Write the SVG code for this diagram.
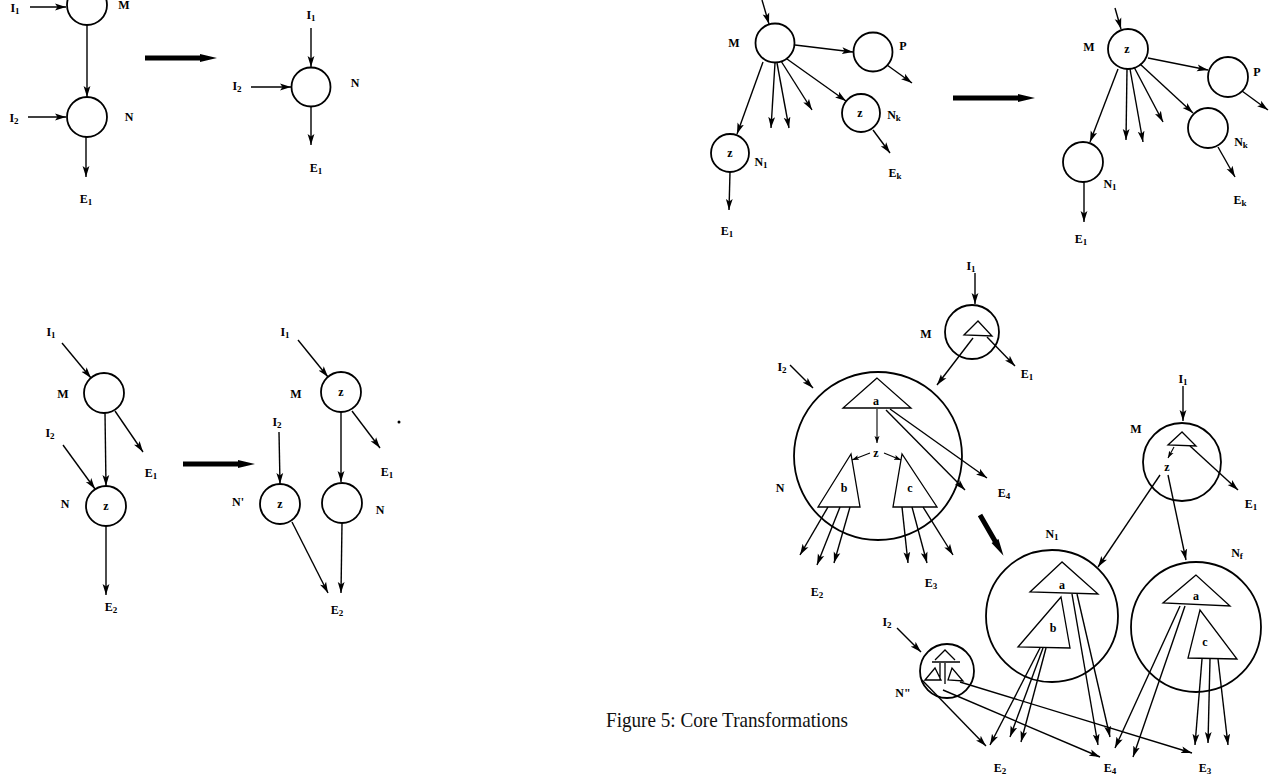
<svg xmlns="http://www.w3.org/2000/svg" width="1271" height="777" viewBox="0 0 1271 777">
<style>
.bg{fill:#fff}
.nd{fill:none;stroke:#000;stroke-width:1.8}
.tr{fill:none;stroke:#000;stroke-width:1.3}
.ln{fill:none;stroke:#000;stroke-width:1.4}
.ar{fill:none;stroke:#000;stroke-width:1.4;marker-end:url(#ah)}
.as{fill:none;stroke:#000;stroke-width:1.1;marker-end:url(#ahs)}
.lb{font-family:"Liberation Serif",serif;font-weight:bold;font-size:12px;fill:#000;text-anchor:middle}
.sub{font-size:9px}
.big{fill:#000}
.cap{font-family:"Liberation Serif",serif;font-size:21px;fill:#111}
</style>
<defs>
<marker id="ah" markerUnits="userSpaceOnUse" markerWidth="12" markerHeight="8" refX="11" refY="4" orient="auto"><path d="M0,0.6 L11,4 L0,7.4 L2.5,4 z" fill="#000"/></marker>
<marker id="ahs" markerUnits="userSpaceOnUse" markerWidth="8" markerHeight="6" refX="7" refY="3" orient="auto"><path d="M0,0.5 L7,3 L0,5.5 L1.5,3 z" fill="#000"/></marker>
</defs>
<rect class="bg" x="0" y="0" width="1271" height="777"/>

<!-- Panel 1 -->
<g id="p1-M"><circle class="nd" cx="87" cy="5" r="20"/><text class="lb" x="124" y="9">M</text></g>
<g id="p1-N"><circle class="nd" cx="87" cy="117" r="20"/><text class="lb" x="129" y="121">N</text></g>
<g id="p1-I1"><text class="lb" x="15" y="12">I<tspan class="sub" dy="2">1</tspan></text></g>
<g id="p1-I2"><text class="lb" x="14" y="122">I<tspan class="sub" dy="2">2</tspan></text></g>
<g id="p1-E1"><text class="lb" x="86" y="203">E<tspan class="sub" dy="2">1</tspan></text></g>
<g id="p1b-N"><circle class="nd" cx="311" cy="87" r="19.5"/><text class="lb" x="355" y="87">N</text></g>
<g id="p1b-I1"><text class="lb" x="311" y="19">I<tspan class="sub" dy="2">1</tspan></text></g>
<g id="p1b-I2"><text class="lb" x="237" y="90">I<tspan class="sub" dy="2">2</tspan></text></g>
<g id="p1b-E1"><text class="lb" x="316" y="172">E<tspan class="sub" dy="2">1</tspan></text></g>

<!-- Panel 2 -->
<g id="p2-M"><circle class="nd" cx="775" cy="43" r="19.5"/><text class="lb" x="734" y="47">M</text></g>
<g id="p2-P"><circle class="nd" cx="873" cy="52" r="19.5"/><text class="lb" x="903" y="50">P</text></g>
<g id="p2-N1"><circle class="nd" cx="730" cy="153" r="19"/><text class="lb" x="730" y="157">z</text><text class="lb" x="761" y="166">N<tspan class="sub" dy="2">1</tspan></text></g>
<g id="p2-Nk"><circle class="nd" cx="861" cy="113" r="19"/><text class="lb" x="860" y="117">z</text><text class="lb" x="894" y="119">N<tspan class="sub" dy="2">k</tspan></text></g>
<g id="p2-E1"><text class="lb" x="727" y="235">E<tspan class="sub" dy="2">1</tspan></text></g>
<g id="p2-Ek"><text class="lb" x="895" y="177">E<tspan class="sub" dy="2">k</tspan></text></g>

<!-- Panel 3 -->
<g id="p3-M"><circle class="nd" cx="1128" cy="49" r="20"/><text class="lb" x="1127" y="53">z</text><text class="lb" x="1089" y="51">M</text></g>
<g id="p3-P"><circle class="nd" cx="1228" cy="77" r="20"/><text class="lb" x="1257" y="76">P</text></g>
<g id="p3-N1"><circle class="nd" cx="1083" cy="162" r="20"/><text class="lb" x="1110" y="188">N<tspan class="sub" dy="2">1</tspan></text></g>
<g id="p3-Nk"><circle class="nd" cx="1208" cy="128" r="20"/><text class="lb" x="1241" y="146">N<tspan class="sub" dy="2">k</tspan></text></g>
<g id="p3-E1"><text class="lb" x="1081" y="243">E<tspan class="sub" dy="2">1</tspan></text></g>
<g id="p3-Ek"><text class="lb" x="1240" y="204">E<tspan class="sub" dy="2">k</tspan></text></g>

<!-- Panel 4 -->
<g id="p4-M"><circle class="nd" cx="104" cy="393" r="20"/><text class="lb" x="63" y="398">M</text></g>
<g id="p4-N"><circle class="nd" cx="106" cy="506" r="20"/><text class="lb" x="106" y="510">z</text><text class="lb" x="65" y="508">N</text></g>
<g id="p4-I1"><text class="lb" x="51" y="336">I<tspan class="sub" dy="2">1</tspan></text></g>
<g id="p4-I2"><text class="lb" x="50" y="437">I<tspan class="sub" dy="2">2</tspan></text></g>
<g id="p4-E1"><text class="lb" x="151" y="477">E<tspan class="sub" dy="2">1</tspan></text></g>
<g id="p4-E2"><text class="lb" x="111" y="611">E<tspan class="sub" dy="2">2</tspan></text></g>
<g id="p4b-M"><circle class="nd" cx="341" cy="392" r="20"/><text class="lb" x="341" y="396">z</text><text class="lb" x="296" y="398">M</text></g>
<g id="p4b-Np"><circle class="nd" cx="280" cy="504" r="20"/><text class="lb" x="280" y="508">z</text><text class="lb" x="238" y="506">N'</text></g>
<g id="p4b-N"><circle class="nd" cx="342" cy="503" r="20"/><text class="lb" x="380" y="514">N</text></g>
<g id="p4b-I1"><text class="lb" x="285" y="336">I<tspan class="sub" dy="2">1</tspan></text></g>
<g id="p4b-I2"><text class="lb" x="277" y="426">I<tspan class="sub" dy="2">2</tspan></text></g>
<g id="p4b-E1"><text class="lb" x="387" y="476">E<tspan class="sub" dy="2">1</tspan></text></g>
<g id="p4b-E2"><text class="lb" x="337" y="614">E<tspan class="sub" dy="2">2</tspan></text></g>
<circle cx="399" cy="422" r="1.5" fill="#000"/>

<!-- Panel 5 -->
<g id="p5-M"><circle class="nd" cx="972" cy="332" r="27"/><polygon class="tr" points="978,321 964,335 992,336"/><text class="lb" x="926" y="338">M</text></g>
<g id="p5-N"><circle class="nd" cx="878" cy="456" r="84"/>
<polygon class="tr" points="877,378 843,408 911,408"/><text class="lb" x="876" y="405">a</text>
<text class="lb" x="876" y="457">z</text>
<polygon class="tr" points="851,454 818,507 860,507"/><text class="lb" x="844" y="492">b</text>
<polygon class="tr" points="902,454 893,507 937,507"/><text class="lb" x="910" y="492">c</text>
<text class="lb" x="780" y="492">N</text></g>
<g id="p5-I1"><text class="lb" x="971" y="270">I<tspan class="sub" dy="2">1</tspan></text></g>
<g id="p5-I2"><text class="lb" x="782" y="371">I<tspan class="sub" dy="2">2</tspan></text></g>
<g id="p5-E1"><text class="lb" x="1027" y="378">E<tspan class="sub" dy="2">1</tspan></text></g>
<g id="p5-E4"><text class="lb" x="1004" y="497">E<tspan class="sub" dy="2">4</tspan></text></g>
<g id="p5-E2"><text class="lb" x="817" y="596">E<tspan class="sub" dy="2">2</tspan></text></g>
<g id="p5-E3"><text class="lb" x="931" y="587">E<tspan class="sub" dy="2">3</tspan></text></g>

<!-- Panel 6 -->
<g id="p6-M"><circle class="nd" cx="1182" cy="462" r="39"/><polygon class="tr" points="1182,432 1168,445 1196,446"/><text class="lb" x="1167" y="471">z</text><text class="lb" x="1136" y="433">M</text></g>
<g id="p6-N1"><circle class="nd" cx="1052" cy="616" r="66"/>
<polygon class="tr" points="1062,562 1030,592 1098,594"/><text class="lb" x="1062" y="589">a</text>
<polygon class="tr" points="1061,597 1018,647 1070,648"/><text class="lb" x="1053" y="632">b</text>
<text class="lb" x="1052" y="538">N<tspan class="sub" dy="2">1</tspan></text></g>
<g id="p6-Nf"><circle class="nd" cx="1196" cy="627" r="65"/>
<polygon class="tr" points="1196,575 1163,603 1230,606"/><text class="lb" x="1196" y="600">a</text>
<polygon class="tr" points="1200,610 1188,658 1237,659"/><text class="lb" x="1205" y="646">c</text>
<text class="lb" x="1237" y="557">N<tspan class="sub" dy="2">f</tspan></text></g>
<g id="p6-Np"><circle class="nd" cx="947" cy="671" r="27"/>
<path class="tr" d="M935,660 L945,650 L955,660 M932,662 L960,662 M940,663 L940,680 M945,663 L945,684 M925,680 L935,668 L941,680 Z M948,680 L952,668 L963,681 Z"/>
<text class="lb" x="903" y="697">N"</text></g>
<g id="p6-I1"><text class="lb" x="1183" y="383">I<tspan class="sub" dy="2">1</tspan></text></g>
<g id="p6-I2"><text class="lb" x="887" y="626">I<tspan class="sub" dy="2">2</tspan></text></g>
<g id="p6-E1"><text class="lb" x="1251" y="508">E<tspan class="sub" dy="2">1</tspan></text></g>
<g id="p6-E2"><text class="lb" x="1000" y="772">E<tspan class="sub" dy="2">2</tspan></text></g>
<g id="p6-E4"><text class="lb" x="1110" y="772">E<tspan class="sub" dy="2">4</tspan></text></g>
<g id="p6-E3"><text class="lb" x="1205" y="772">E<tspan class="sub" dy="2">3</tspan></text></g>

<g id="connectors">
<!-- panel 1 -->
<line class="ar" x1="30" y1="7" x2="66" y2="7"/>
<line class="ar" x1="87" y1="25" x2="87" y2="97"/>
<line class="ar" x1="28" y1="117" x2="66" y2="117"/>
<line class="ar" x1="86" y1="137" x2="86" y2="177"/>
<line class="ar" x1="311" y1="28" x2="311" y2="67"/>
<line class="ar" x1="251" y1="87" x2="291" y2="87"/>
<line class="ar" x1="311" y1="107" x2="311" y2="145"/>
<!-- panel 2 -->
<line class="ar" x1="762" y1="0" x2="769" y2="24"/>
<line class="ar" x1="795" y1="45" x2="853" y2="52"/>
<line class="ar" x1="887" y1="65" x2="912" y2="83"/>
<line class="ar" x1="763" y1="62" x2="737" y2="134"/>
<line class="ar" x1="775" y1="63" x2="771" y2="128"/>
<line class="ar" x1="777" y1="63" x2="789" y2="128"/>
<line class="ar" x1="781" y1="61" x2="812" y2="110"/>
<line class="ar" x1="787" y1="59" x2="846" y2="101"/>
<line class="ar" x1="730" y1="172" x2="729" y2="210"/>
<line class="ar" x1="873" y1="130" x2="890" y2="153"/>
<!-- panel 3 -->
<line class="ar" x1="1115" y1="8" x2="1121" y2="29"/>
<line class="ar" x1="1148" y1="58" x2="1208" y2="70"/>
<line class="ar" x1="1242" y1="91" x2="1268" y2="110"/>
<line class="ar" x1="1118" y1="69" x2="1090" y2="142"/>
<line class="ar" x1="1127" y1="69" x2="1126" y2="140"/>
<line class="ar" x1="1130" y1="69" x2="1143" y2="142"/>
<line class="ar" x1="1134" y1="67" x2="1163" y2="122"/>
<line class="ar" x1="1140" y1="64" x2="1193" y2="113"/>
<line class="ar" x1="1084" y1="182" x2="1084" y2="222"/>
<line class="ar" x1="1218" y1="147" x2="1235" y2="177"/>
<!-- panel 4 -->
<line class="ar" x1="62" y1="343" x2="91" y2="378"/>
<line class="ar" x1="105" y1="413" x2="106" y2="486"/>
<line class="ar" x1="115" y1="411" x2="143" y2="452"/>
<line class="ar" x1="63" y1="445" x2="95" y2="489"/>
<line class="ar" x1="106" y1="526" x2="106" y2="595"/>
<line class="ar" x1="298" y1="340" x2="328" y2="377"/>
<line class="ar" x1="341" y1="412" x2="341" y2="482"/>
<line class="ar" x1="352" y1="411" x2="380" y2="448"/>
<line class="ar" x1="279" y1="432" x2="280" y2="484"/>
<line class="ar" x1="292" y1="522" x2="328" y2="593"/>
<line class="ar" x1="342" y1="523" x2="341" y2="593"/>
<!-- panel 5 -->
<line class="ar" x1="975" y1="273" x2="975" y2="304"/>
<line class="ar" x1="973" y1="338" x2="937" y2="385"/>
<line class="ar" x1="987" y1="337" x2="1015" y2="366"/>
<line class="ar" x1="790" y1="365" x2="813" y2="388"/>
<line class="as" x1="877" y1="409" x2="877" y2="443"/>
<line class="as" x1="870" y1="453" x2="852" y2="460"/>
<line class="as" x1="884" y1="453" x2="901" y2="460"/>
<line class="ar" x1="890" y1="409" x2="987" y2="478"/>
<line class="ar" x1="886" y1="410" x2="965" y2="490"/>
<line class="ar" x1="828" y1="507" x2="800" y2="555"/>
<line class="ar" x1="840" y1="507" x2="817" y2="565"/>
<line class="ar" x1="850" y1="507" x2="834" y2="563"/>
<line class="ar" x1="902" y1="507" x2="908" y2="563"/>
<line class="ar" x1="912" y1="507" x2="927" y2="563"/>
<line class="ar" x1="923" y1="507" x2="953" y2="555"/>
<!-- panel 6 -->
<line class="ar" x1="1183" y1="386" x2="1183" y2="421"/>
<line class="as" x1="1174" y1="447" x2="1168" y2="458"/>
<line class="ar" x1="1190" y1="446" x2="1238" y2="490"/>
<line class="ar" x1="1160" y1="475" x2="1098" y2="567"/>
<line class="ar" x1="1168" y1="475" x2="1186" y2="560"/>
<line class="ar" x1="1072" y1="594" x2="1098" y2="745"/>
<line class="ar" x1="1077" y1="594" x2="1110" y2="737"/>
<line class="ar" x1="1040" y1="648" x2="990" y2="745"/>
<line class="ar" x1="1043" y1="648" x2="1010" y2="737"/>
<line class="ar" x1="1046" y1="648" x2="1021" y2="742"/>
<line class="ar" x1="1180" y1="606" x2="1115" y2="748"/>
<line class="ar" x1="1185" y1="606" x2="1133" y2="757"/>
<line class="ar" x1="1202" y1="659" x2="1195" y2="745"/>
<line class="ar" x1="1210" y1="659" x2="1208" y2="743"/>
<line class="ar" x1="1218" y1="659" x2="1228" y2="745"/>
<line class="ar" x1="897" y1="628" x2="921" y2="652"/>
<line class="ar" x1="922" y1="680" x2="986" y2="746"/>
<line class="ar" x1="943" y1="690" x2="1100" y2="757"/>
<line class="ar" x1="960" y1="682" x2="1192" y2="753"/>
<!-- thick transformation arrows -->
<path class="big" d="M145,55.5 L200,55.5 L200,54 L217,58 L200,62 L200,60.5 L145,60.5 Z"/>
<path class="big" d="M953,95.5 L1018,95.5 L1018,94 L1035,98 L1018,102 L1018,100.5 L953,100.5 Z"/>
<path class="big" d="M183,461.5 L238,461.5 L238,460 L255,464 L238,468 L238,466.5 L183,466.5 Z"/>
<path class="big" transform="translate(980,515) rotate(60)" d="M0,-2.5 L30,-2.5 L30,-4 L47,0 L30,4 L30,2.5 L0,2.5 Z"/>
</g>

<text class="cap" x="606" y="727" textLength="242" lengthAdjust="spacingAndGlyphs">Figure 5: Core Transformations</text>
</svg>
